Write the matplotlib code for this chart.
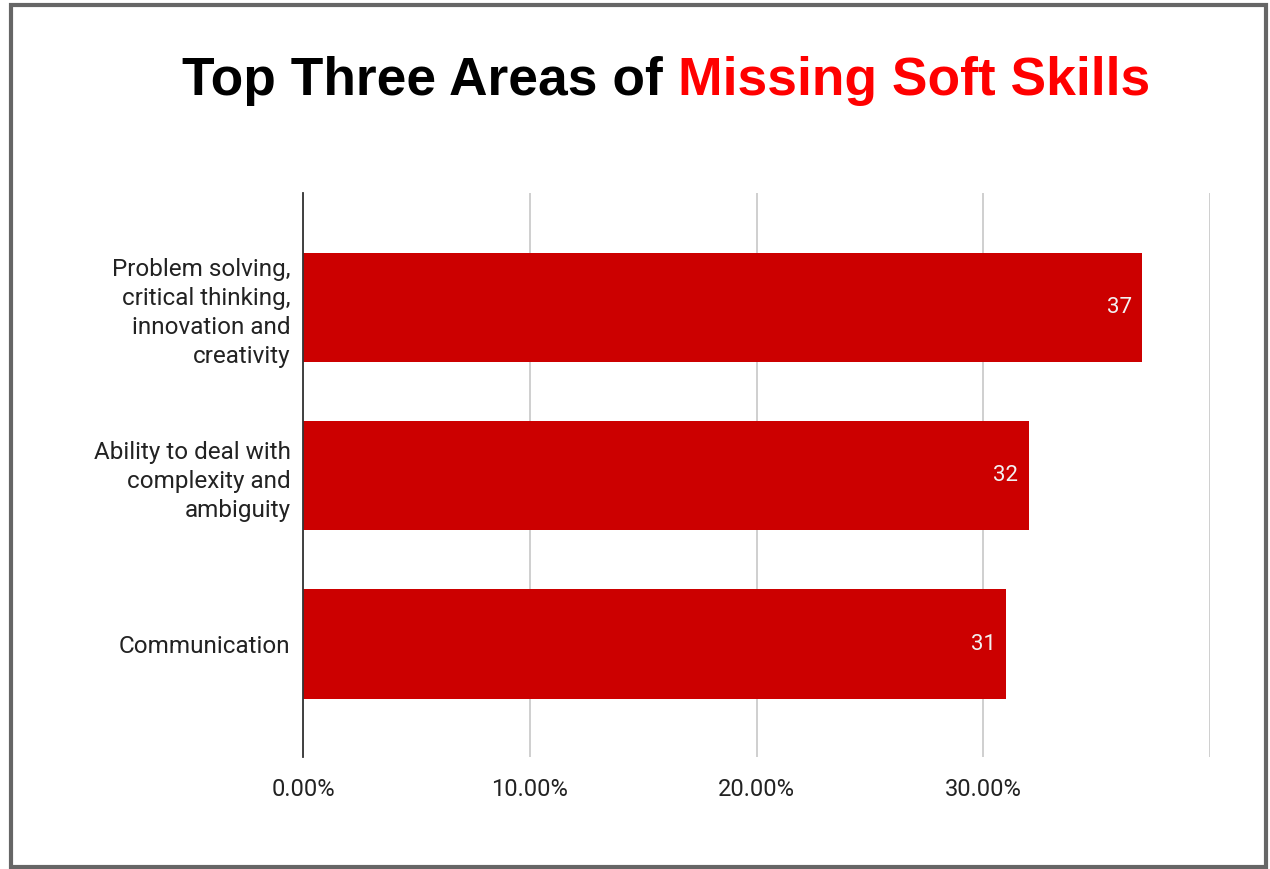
import matplotlib.pyplot as plt
from matplotlib.patches import Rectangle

skills = ['Problem solving,\ncritical thinking,\ninnovation and\ncreativity',
          'Ability to deal with\ncomplexity and\nambiguity',
          'Communication']
values = [37, 32, 31]
xticks = [0, 10, 20, 30, 40]
xtick_labels = ['0.00%', '10.00%', '20.00%', '30.00%', '']

fig = plt.figure(figsize=(12.7, 8.69), dpi=100)
ax = fig.add_axes([0.2386, 0.129, 0.9528 - 0.2386, 0.778 - 0.129])

pos = list(range(len(skills)))
bars = ax.barh(pos, values, height=0.65, color='#cc0000', zorder=3)
for b, v in zip(bars, values):
    ax.text(b.get_width() - 0.45, b.get_y() + b.get_height() / 2, str(v),
            ha='right', va='center', color='#f2f2f2', fontsize=16,
            family='Roboto', zorder=4)

ax.set_xlim(0, 40)
ax.set_ylim(2.67, -0.68)
ax.set_xticks(xticks)
ax.set_xticklabels(xtick_labels, family='Roboto', fontsize=17, color='#222222')
ax.set_yticks(pos)
ax.set_yticklabels(skills, family='Roboto', fontsize=17.5, color='#222222',
                   linespacing=1.33)
ax.tick_params(axis='both', length=0)
ax.tick_params(axis='x', pad=15)
ax.tick_params(axis='y', pad=9)
ax.grid(axis='x', color='#cccccc', linewidth=1.3, zorder=0)
for s in ['top', 'right', 'bottom']:
    ax.spines[s].set_visible(False)
ax.spines['left'].set_color('#333333')
ax.spines['left'].set_linewidth(1.3)
ax.spines['left'].set_zorder(5)

# two-colour title
t1 = fig.text(0.1435, 0.907, 'Top Three Areas of ', fontsize=38.4, fontweight='bold',
              family='Liberation Sans', color='black', va='center', ha='left')
fig.canvas.draw()
bb = t1.get_window_extent()
x2 = bb.x1 / fig.bbox.width
fig.text(x2, 0.907, 'Missing Soft Skills', fontsize=38.4, fontweight='bold',
         family='Liberation Sans', color='#ff0000', va='center', ha='left')

fig.patches.append(Rectangle((11 / 1270, 2 / 869), 1255 / 1270, 862 / 869,
                             transform=fig.transFigure, fill=False,
                             edgecolor='#666666', linewidth=3))

fig.savefig('out.png', dpi=100)
